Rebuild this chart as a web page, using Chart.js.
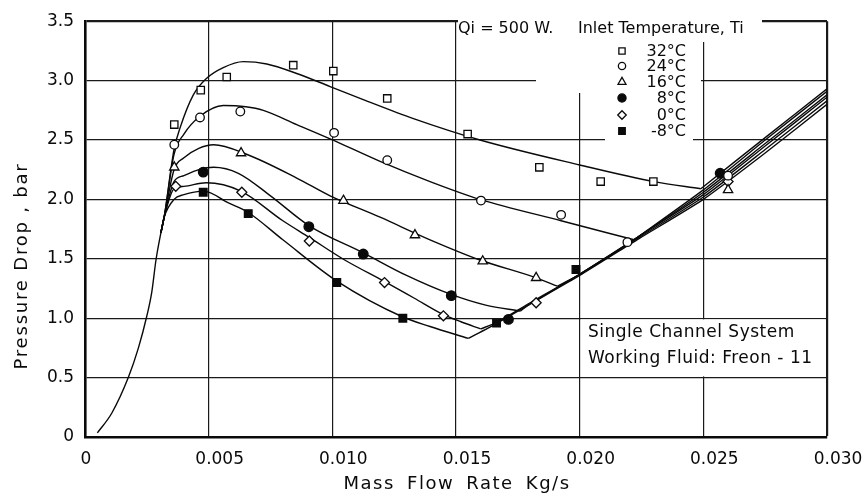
<!DOCTYPE html>
<html>
<head>
<meta charset="utf-8">
<title>Pressure drop vs mass flow rate</title>
<script src="https://cdn.jsdelivr.net/npm/chart.js@4.4.1/dist/chart.umd.min.js"></script>
<style>
  html, body { margin: 0; padding: 0; background: #fff; }
  canvas { display: block; }
</style>
</head>
<body>
<canvas id="chart" width="868" height="496"></canvas>
<script>
// ---- data: mass flow rate (kg/s) vs pressure drop (bar) ----
const temps = ['32°C', '24°C', '16°C', '8°C', '0°C', '-8°C'];
const xTickValues = [0, 0.005, 0.010, 0.015, 0.020, 0.025, 0.030];
const xTickLabels = ['0', '0.005', '0.010', '0.015', '0.020', '0.025', '0.030'];

// shared rising branch at low flow
const riseCurve = [[0.0005, 0.035], [0.00108, 0.20], [0.00175, 0.50], [0.00216, 0.75],
  [0.00249, 1.01], [0.0027, 1.22], [0.00287, 1.49], [0.00307, 1.72], [0.0032, 1.85]];

// fitted curves (left branch, from the split point)
const fit32 = [[0.00307, 1.72], [0.0032, 1.85], [0.0036, 2.42], [0.00384, 2.60], [0.00438, 2.88], [0.00492, 3.02],
  [0.00559, 3.11], [0.0064, 3.16], [0.00735, 3.14], [0.00856, 3.06], [0.00991, 2.95], [0.01125, 2.84],
  [0.01328, 2.68], [0.01597, 2.50], [0.0200, 2.29], [0.0230, 2.15], [0.0249, 2.09]];
const fit24 = [[0.00307, 1.72], [0.0032, 1.85], [0.0036, 2.38], [0.0040, 2.55], [0.00465, 2.70], [0.00559, 2.79],
  [0.0065, 2.78], [0.00721, 2.75], [0.00856, 2.63], [0.00991, 2.51], [0.01193, 2.32], [0.01395, 2.15],
  [0.01597, 2.00], [0.01925, 1.82], [0.0222, 1.66]];
const fit16 = [[0.00307, 1.72], [0.0032, 1.85], [0.0036, 2.25], [0.0040, 2.35], [0.0046, 2.43], [0.0052, 2.46],
  [0.00653, 2.38], [0.00856, 2.18], [0.00991, 2.03], [0.01193, 1.85], [0.01395, 1.66], [0.01597, 1.49],
  [0.01824, 1.34], [0.0191, 1.27]];
const fit8 = [[0.00307, 1.72], [0.0032, 1.85], [0.0036, 2.15], [0.0040, 2.20], [0.0046, 2.25], [0.0052, 2.27],
  [0.0062, 2.22], [0.0075, 2.03], [0.00905, 1.78], [0.01125, 1.55], [0.0130, 1.36], [0.0148, 1.20],
  [0.0162, 1.11], [0.0176, 1.06]];
const fit0 = [[0.00307, 1.72], [0.0032, 1.85], [0.0036, 2.09], [0.0040, 2.11], [0.0049, 2.14], [0.0063, 2.07],
  [0.0080, 1.82], [0.00907, 1.68], [0.0105, 1.49], [0.0121, 1.31], [0.0133, 1.17], [0.01449, 1.03],
  [0.0152, 0.97], [0.0160, 0.91]];
const fitM8 = [[0.00307, 1.72], [0.0032, 1.85], [0.0036, 2.00], [0.0040, 2.04], [0.0048, 2.07], [0.0058, 1.97],
  [0.0066, 1.89], [0.0080, 1.66], [0.0102, 1.31], [0.01285, 1.01], [0.01395, 0.93], [0.0155, 0.83]];

// high-flow branch (each temperature continues up the common line)
const high32 = [[0.0249, 2.09], [0.0275, 2.52], [0.030, 2.93]];
const high24 = [[0.0222, 1.66], [0.0250, 2.08], [0.0275, 2.50], [0.030, 2.91]];
const high16 = [[0.0191, 1.27], [0.0200, 1.37], [0.0224, 1.69], [0.0250, 2.06], [0.0275, 2.47], [0.030, 2.88]];
const high8 = [[0.0176, 1.06], [0.0180, 1.12], [0.0200, 1.37], [0.0224, 1.69], [0.0250, 2.04], [0.0275, 2.45], [0.030, 2.86]];
const high0 = [[0.0160, 0.91], [0.0166, 0.96], [0.0180, 1.13], [0.0200, 1.37], [0.0224, 1.68], [0.0250, 2.02], [0.0275, 2.42], [0.030, 2.83]];
const highM8 = [[0.0155, 0.83], [0.0166, 0.95], [0.0180, 1.12], [0.0200, 1.36], [0.0224, 1.67], [0.0250, 2.00], [0.0275, 2.39], [0.030, 2.80]];

// measured points
const meas32 = [[0.00361, 2.63], [0.00468, 2.92], [0.00573, 3.03], [0.00842, 3.13], [0.01004, 3.08],
  [0.01222, 2.85], [0.01547, 2.55], [0.01837, 2.27], [0.02085, 2.15], [0.02298, 2.15]];
const meas24 = [[0.00361, 2.46], [0.00465, 2.69], [0.00628, 2.74], [0.01007, 2.56], [0.01222, 2.33],
  [0.01601, 1.99], [0.01925, 1.87], [0.02193, 1.64], [0.0260, 2.20]];
const meas16 = [[0.00361, 2.27], [0.00631, 2.39], [0.01045, 1.99], [0.01334, 1.70], [0.01608, 1.48],
  [0.01824, 1.34], [0.0260, 2.08]];
const meas8 = [[0.00478, 2.23], [0.00905, 1.77], [0.01125, 1.54], [0.01481, 1.19], [0.01712, 0.99], [0.02568, 2.22]];
const meas0 = [[0.00367, 2.11], [0.00634, 2.06], [0.00907, 1.65], [0.01211, 1.30], [0.01449, 1.02],
  [0.01824, 1.13], [0.0260, 2.15]];
const measM8 = [[0.00478, 2.06], [0.0066, 1.88], [0.01018, 1.30], [0.01285, 1.00], [0.01664, 0.96], [0.01985, 1.41]];

// ---- styling ----
const INK = '#0a0a0a';
const FONT = '"DejaVu Sans", "Liberation Sans", sans-serif';
const markerStyles = [
  { pointStyle: 'rect', radius: 5.2, fill: '#fff' },
  { pointStyle: 'circle', radius: 4.3, fill: '#fff' },
  { pointStyle: 'triangle', radius: 5.4, fill: '#fff' },
  { pointStyle: 'circle', radius: 4.8, fill: INK },
  { pointStyle: 'rectRot', radius: 5.0, fill: '#fff' },
  { pointStyle: 'rect', radius: 5.4, fill: INK }
];

const toXY = arr => arr.map(([x, y]) => ({ x, y }));

function lineSet(points) {
  return {
    data: toXY(points),
    showLine: true,
    pointRadius: 0,
    pointHoverRadius: 0,
    borderColor: INK,
    borderWidth: 1.4,
    fill: false,
    cubicInterpolationMode: 'monotone',
    order: 2
  };
}

function markerSet(points, idx) {
  const s = markerStyles[idx];
  return {
    label: temps[idx],
    data: toXY(points),
    showLine: false,
    pointStyle: s.pointStyle,
    pointRadius: s.radius,
    pointHoverRadius: s.radius,
    pointBackgroundColor: s.fill,
    pointBorderColor: INK,
    pointBorderWidth: 1.3,
    order: 1
  };
}

const fits = [fit32, fit24, fit16, fit8, fit0, fitM8];
const highs = [high32, high24, high16, high8, high0, highM8];
const measured = [meas32, meas24, meas16, meas8, meas0, measM8];

const datasets = [lineSet(riseCurve)];
fits.forEach(f => datasets.push(lineSet(f)));
highs.forEach(h => { const d = lineSet(h); d.cubicInterpolationMode = 'default'; d.tension = 0.2; datasets.push(d); });
measured.forEach((m, i) => datasets.push(markerSet(m, i)));

// white areas behind the key and the note box (grid lines stop there)
const gridGaps = {
  id: 'gridGaps',
  beforeDatasetsDraw(chart) {
    const { ctx, scales: { x, y } } = chart;
    ctx.save();
    ctx.fillStyle = '#fff';
    ctx.fillRect(458, 18.6, 304, 23.4);
    ctx.fillRect(536, 42, 165, 51);
    ctx.fillRect(605, 93, 88, 49);
    const x0 = x.getPixelForValue(0.020) + 1.2, x1 = x.getPixelForValue(0.030) - 1.5;
    const y0 = y.getPixelForValue(1.0) + 1.2, y1 = y.getPixelForValue(0.5) - 1.2;
    ctx.fillRect(x0, y0, x1 - x0, y1 - y0);
    ctx.restore();
  }
};

// axis titles, x tick labels, key and note text
const annotations = {
  id: 'annotations',
  afterDraw(chart) {
    const { ctx, scales: { x } } = chart;
    ctx.save();
    ctx.fillStyle = INK;
    ctx.strokeStyle = INK;

    // x tick labels
    ctx.font = '17px ' + FONT;
    ctx.textAlign = 'center';
    ctx.textBaseline = 'alphabetic';
    xTickValues.forEach((v, i) => {
      const px = x.getPixelForValue(v) + (v === 0 ? 1 : 11);
      ctx.fillText(xTickLabels[i], px, 464);
    });

    // x title
    ctx.font = '18px ' + FONT;
    ctx.letterSpacing = '1.5px';
    ctx.wordSpacing = '5px';
    ctx.fillText('Mass Flow Rate Kg/s', 457, 489);
    ctx.wordSpacing = '0px';

    // y title
    ctx.save();
    ctx.letterSpacing = '1.8px';
    ctx.translate(27, 266);
    ctx.rotate(-Math.PI / 2);
    ctx.fillText('Pressure Drop , bar', 0, 0);
    ctx.restore();

    // key header
    ctx.font = '16px ' + FONT;
    ctx.letterSpacing = '0px';
    ctx.textAlign = 'left';
    ctx.fillText('Qi = 500 W.', 458, 33);
    ctx.fillText('Inlet Temperature, Ti', 578, 33);

    // key rows
    const rowY = [51, 66, 82, 98, 115, 131];
    temps.forEach((t, i) => {
      const s = markerStyles[i];
      ctx.fillStyle = s.fill;
      ctx.strokeStyle = INK;
      ctx.lineWidth = 1.3;
      Chart.helpers.drawPoint(ctx, { pointStyle: s.pointStyle, radius: s.radius * 0.85, rotation: 0, borderWidth: 1.3 }, 622, rowY[i]);
      ctx.fillStyle = INK;
      ctx.textAlign = 'right';
      ctx.textBaseline = 'middle';
      ctx.fillText(t, 686, rowY[i] + 1);
    });

    // note box
    ctx.textAlign = 'left';
    ctx.textBaseline = 'alphabetic';
    ctx.font = '17px ' + FONT;
    ctx.letterSpacing = '0.5px';
    ctx.fillText('Single Channel System', 588, 337);
    ctx.fillText('Working Fluid: Freon - 11', 588, 363);
    ctx.restore();
  }
};

const isEdge = (v, edge) => Math.abs(v - edge) < 1e-9;

new Chart(document.getElementById('chart'), {
  type: 'scatter',
  data: { datasets },
  plugins: [gridGaps, annotations],
  options: {
    responsive: false,
    animation: false,
    devicePixelRatio: 1,
    events: [],
    layout: { padding: { left: 0, top: 17, right: 41, bottom: 0 } },
    plugins: { legend: { display: false }, tooltip: { enabled: false } },
    scales: {
      x: {
        type: 'linear',
        min: 0,
        max: 0.030,
        afterFit: s => { s.height = 59; },
        ticks: { stepSize: 0.005, display: false },
        grid: {
          color: '#1a1a1a',
          lineWidth: c => (c.tick && isEdge(c.tick.value, 0.030)) ? 2.2 : 1.2,
          drawTicks: false
        },
        border: { display: true, color: INK, width: 2.6 }
      },
      y: {
        type: 'linear',
        min: 0,
        max: 3.5,
        afterFit: s => { s.width = 85; },
        ticks: {
          stepSize: 0.5,
          padding: 11,
          color: INK,
          font: { family: FONT, size: 17 },
          callback: v => v === 0 ? '0' : v.toFixed(1)
        },
        grid: {
          color: '#1a1a1a',
          lineWidth: c => (c.tick && isEdge(c.tick.value, 3.5)) ? 2.2 : 1.2,
          drawTicks: false
        },
        border: { display: true, color: INK, width: 2.6 }
      }
    }
  }
});
</script>
</body>
</html>
